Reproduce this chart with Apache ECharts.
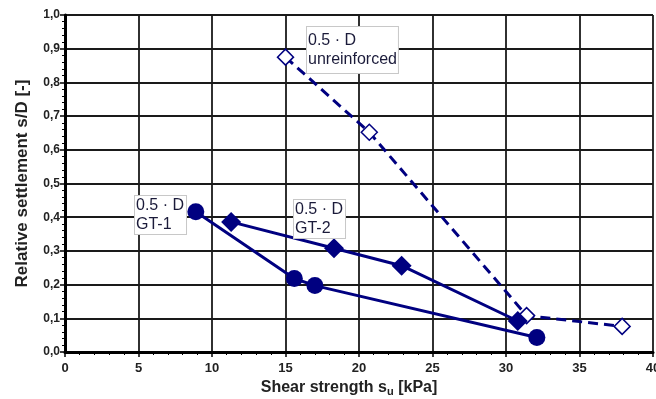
<!DOCTYPE html>
<html>
<head>
<meta charset="utf-8">
<script src="https://cdn.jsdelivr.net/npm/echarts@6/dist/echarts.min.js"></script>
<style>
html, body { margin: 0; padding: 0; background: #fff; }
#main { width: 656px; height: 399px; }
</style>
</head>
<body>
<div id="main"></div>
<script>
// shear strength su [kPa] / relative settlement s/D [-]
const unreinfX = [15.0, 20.7, 31.4, 37.9];
const unreinfY = [0.875, 0.652, 0.108, 0.076];
const gt1X = [8.9, 15.6, 17.0, 32.1];
const gt1Y = [0.416, 0.218, 0.197, 0.043];
const gt2X = [11.3, 18.3, 22.9, 30.8];
const gt2Y = [0.386, 0.308, 0.256, 0.092];

const navy = '#000080';
const pairs = (xs, ys) => xs.map((x, i) => [x, ys[i]]);

let myChart = echarts.init(document.getElementById('main'));

const txtFont = '16px "Liberation Sans", Arial, sans-serif';
function noteBox(left, top, text, pad) {
    return {
        type: 'text',
        left: left,
        top: top,
        z: 100,
        style: {
            text: text,
            font: txtFont,
            fill: '#1b1b3a',
            lineHeight: 19,
            backgroundColor: '#fff',
            borderColor: '#c8c8c8',
            borderWidth: 1,
            padding: pad
        }
    };
}

myChart.setOption({
    animation: false,
    grid: { left: 65, right: 3, top: 15, bottom: 47, outerBoundsMode: 'none' },
    xAxis: {
        type: 'value',
        min: 0, max: 40, interval: 5,
        name: '{a|Shear strength s}{s|u}{a| [kPa]}',
        nameLocation: 'middle',
        nameGap: 22,
        nameTextStyle: {
            padding: [0, 20, 0, 0],
            rich: {
                a: { fontFamily: 'Liberation Sans', fontWeight: 'bold', fontSize: 16, color: '#222' },
                s: { fontFamily: 'Liberation Sans', fontWeight: 'bold', fontSize: 11, color: '#222', padding: [8, 0, 0, 0] }
            }
        },
        axisLine: { onZero: false, lineStyle: { color: '#000', width: 3 } },
        axisTick: { inside: false, length: 5, lineStyle: { color: '#000', width: 1.5 } },
        minorTick: { show: true, splitNumber: 5, length: 3, lineStyle: { color: '#000' } },
        splitLine: { show: true, lineStyle: { color: '#1a1a1a', width: 1.8 } },
        axisLabel: {
            margin: 10,
            fontFamily: 'Liberation Sans', fontWeight: 'bold', fontSize: 13, color: '#222'
        }
    },
    yAxis: {
        type: 'value',
        min: 0, max: 1, interval: 0.1,
        name: 'Relative settlement s/D [-]',
        nameLocation: 'middle',
        nameGap: 34,
        nameTextStyle: { fontFamily: 'Liberation Sans', fontWeight: 'bold', fontSize: 17, color: '#222' },
        axisLine: { onZero: false, lineStyle: { color: '#000', width: 3 } },
        axisTick: { inside: false, length: 5, lineStyle: { color: '#000', width: 1.5 } },
        minorTick: { show: true, splitNumber: 5, length: 3, lineStyle: { color: '#000' } },
        splitLine: { show: true, lineStyle: { color: '#1a1a1a', width: 1.8 } },
        axisLabel: {
            margin: 5,
            formatter: v => v.toFixed(1).replace('.', ','),
            fontFamily: 'Liberation Sans', fontWeight: 'bold', fontSize: 12, color: '#222'
        }
    },
    series: [
        {
            name: 'unreinforced',
            type: 'line',
            data: pairs(unreinfX, unreinfY),
            symbol: 'diamond',
            symbolSize: 16,
            showAllSymbol: true,
            lineStyle: { color: navy, width: 3, type: [10, 6] },
            itemStyle: { color: '#fff', borderColor: navy, borderWidth: 1.5 },
            z: 3
        },
        {
            name: 'GT-1',
            type: 'line',
            data: pairs(gt1X, gt1Y),
            symbol: 'circle',
            symbolSize: 17,
            showAllSymbol: true,
            lineStyle: { color: navy, width: 3 },
            itemStyle: { color: navy, borderWidth: 0 },
            z: 4
        },
        {
            name: 'GT-2',
            type: 'line',
            data: pairs(gt2X, gt2Y),
            symbol: 'diamond',
            symbolSize: 20,
            showAllSymbol: true,
            lineStyle: { color: navy, width: 3 },
            itemStyle: { color: navy, borderWidth: 0 },
            z: 4
        }
    ],
    graphic: [
        noteBox(306, 26, '0.5 · D\nunreinforced', [4, 1, 4, 1]),
        noteBox(134, 195, '0.5 · D\nGT-1', [0, 2, 0, 1]),
        noteBox(293, 199, '0.5 · D\nGT-2', [0, 2, 0, 1])
    ]
});
</script>
</body>
</html>
